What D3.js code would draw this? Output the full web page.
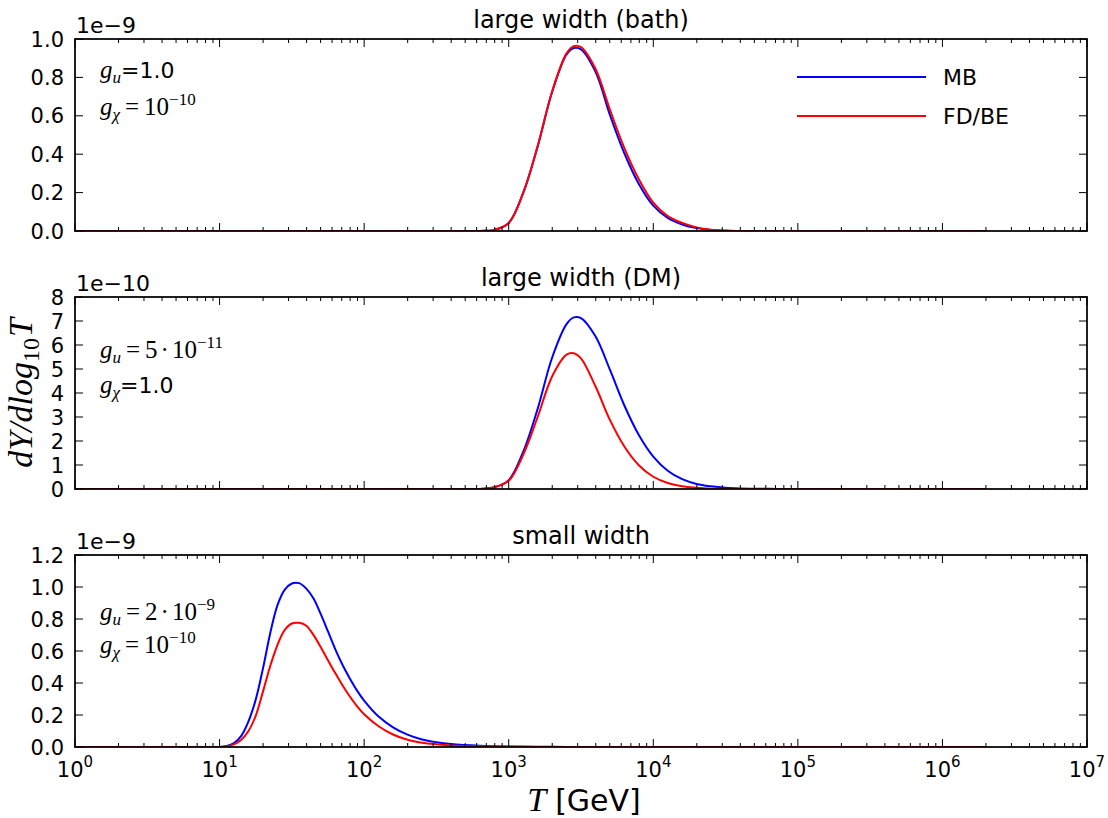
<!DOCTYPE html>
<html><head><meta charset="utf-8">
<script src="https://cdn.jsdelivr.net/npm/d3@7"></script>
<style>body{margin:0;background:#fff}svg{display:block}</style>
</head><body>
<svg id="c" width="1108" height="818"></svg>
<script>
// ---------------- data ----------------
const panelTitles = ["large width (bath)", "large width (DM)", "small width"];
const offsetLabels = ["1e\u22129", "1e\u221210", "1e\u22129"];
const seriesNames = ["MB", "FD/BE"];
const seriesColors = ["#0000ff", "#ff0000"];
const xTickExponents = [0, 1, 2, 3, 4, 5, 6, 7];
const yTicksBath = [0, 0.2, 0.4, 0.6, 0.8, 1.0];
const yTicksDM = [0, 1, 2, 3, 4, 5, 6, 7, 8];
const yTicksSmall = [0, 0.2, 0.4, 0.6, 0.8, 1.0, 1.2];
const yTickLabelsBath = ["0.0", "0.2", "0.4", "0.6", "0.8", "1.0"];
const yTickLabelsDM = ["0", "1", "2", "3", "4", "5", "6", "7", "8"];
const yTickLabelsSmall = ["0.0", "0.2", "0.4", "0.6", "0.8", "1.0", "1.2"];

// log10(T / GeV) sample points, values in units of the panel offset (1e-9, 1e-10, 1e-9)
const logT_large = [0, 1, 2, 2.5, 2.8, 2.9, 3.0, 3.1, 3.2, 3.3, 3.4, 3.45, 3.5, 3.6, 3.7, 3.8, 3.9, 4.0, 4.1, 4.2, 4.3, 4.4, 4.5, 4.6, 4.8, 5.0, 5.5, 6.0, 6.3];
const mb_bath = [0, 0, 0, 0, 0.0005, 0.006, 0.042, 0.198, 0.44, 0.724, 0.92, 0.953, 0.946, 0.83, 0.605, 0.405, 0.245, 0.132, 0.068, 0.034, 0.015, 0.005, 0.0015, 0.0003, 0, 0, 0, 0, 0];
const fd_bath = [0, 0, 0, 0, 0.0005, 0.006, 0.042, 0.198, 0.441, 0.725, 0.925, 0.963, 0.958, 0.845, 0.632, 0.432, 0.27, 0.148, 0.078, 0.042, 0.019, 0.007, 0.002, 0.0005, 0, 0, 0, 0, 0];
const mb_dm = [0, 0, 0, 0, 0.005, 0.07, 0.37, 1.55, 3.34, 5.47, 6.87, 7.15, 7.12, 6.36, 4.97, 3.48, 2.25, 1.35, 0.76, 0.41, 0.21, 0.11, 0.05, 0.025, 0.008, 0.002, 0, 0, 0];
const fd_dm = [0, 0, 0, 0, 0.005, 0.07, 0.34, 1.42, 3.0, 4.69, 5.6, 5.66, 5.44, 4.28, 2.88, 1.77, 0.99, 0.51, 0.25, 0.11, 0.05, 0.015, 0.005, 0.001, 0, 0, 0, 0, 0];

const logT_small = [0, 0.5, 1.0, 1.05, 1.1, 1.15, 1.2, 1.25, 1.3, 1.35, 1.4, 1.45, 1.5, 1.55, 1.6, 1.65, 1.7, 1.75, 1.8, 1.85, 1.9, 1.95, 2.0, 2.1, 2.2, 2.3, 2.4, 2.5, 2.6, 2.8, 3.0, 3.3, 3.6, 4.0, 5.0, 6.0, 6.3];
const mb_small = [0, 0, 0, 0.006, 0.025, 0.07, 0.16, 0.296, 0.49, 0.71, 0.885, 0.982, 1.022, 1.024, 0.99, 0.928, 0.83, 0.722, 0.612, 0.514, 0.43, 0.354, 0.29, 0.19, 0.123, 0.077, 0.047, 0.03, 0.019, 0.008, 0.003, 0.001, 0, 0, 0, 0, 0];
const fd_small = [0, 0, 0, 0.004, 0.016, 0.045, 0.1, 0.195, 0.346, 0.505, 0.637, 0.73, 0.772, 0.776, 0.758, 0.699, 0.624, 0.542, 0.462, 0.386, 0.317, 0.256, 0.205, 0.13, 0.078, 0.045, 0.027, 0.017, 0.01, 0.004, 0.0015, 0.0005, 0, 0, 0, 0, 0];

// ---------------- layout ----------------
const SANS = "'DejaVu Sans', sans-serif";
const SERIF = "'Liberation Serif', 'DejaVu Serif', serif";
const L = 75, R = 1087, PH = 192;
const panelTops = [39, 297, 555];
const svg = d3.select("#c");

const x = d3.scaleLog().domain([1, 1e7]).range([L, R]);

const panels = [
  {title: panelTitles[0], offset: offsetLabels[0], ticks: yTicksBath, labels: yTickLabelsBath, logT: logT_large, series: [mb_bath, fd_bath]},
  {title: panelTitles[1], offset: offsetLabels[1], ticks: yTicksDM, labels: yTickLabelsDM, logT: logT_large, series: [mb_dm, fd_dm]},
  {title: panelTitles[2], offset: offsetLabels[2], ticks: yTicksSmall, labels: yTickLabelsSmall, logT: logT_small, series: [mb_small, fd_small]}
];

function mathText(sel, px, py, parts, anchor) {
  const t = sel.append("text").attr("x", px).attr("y", py).attr("fill", "#000");
  if (anchor) t.attr("text-anchor", anchor);
  let cur = 0;
  parts.forEach(p => {
    const s = t.append("tspan").text(p.t)
      .attr("font-family", p.sans ? SANS : SERIF)
      .attr("font-style", p.it ? "italic" : "normal")
      .attr("font-size", p.size);
    const target = p.shift || 0;
    if (target - cur !== 0) s.attr("dy", target - cur);
    cur = target;
    if (p.dx) s.attr("dx", p.dx);
  });
  return t;
}

const majorX = xTickExponents.map(e => Math.pow(10, e));
const minorX = [];
xTickExponents.slice(0, -1).forEach(e => { for (let m = 2; m <= 9; m++) minorX.push(m * Math.pow(10, e)); });

panels.forEach((p, i) => {
  const top = panelTops[i], bot = top + PH;
  const yMax = p.ticks[p.ticks.length - 1];
  const y = d3.scaleLinear().domain([0, yMax]).range([bot, top]);
  const g = svg.append("g");

  const clipId = "clip" + i;
  svg.append("clipPath").attr("id", clipId).append("rect")
    .attr("x", L).attr("y", top).attr("width", R - L).attr("height", PH);

  const line = d3.line()
    .x(d => x(Math.pow(10, d[0])))
    .y(d => y(Math.max(0, d[1])))
    .curve(d3.curveCatmullRom.alpha(0.5));

  p.series.forEach((vals, k) => {
    const pts = p.logT.map((lt, j) => [lt, vals[j]]);
    g.append("path").attr("d", line(pts)).attr("fill", "none")
      .attr("stroke", seriesColors[k]).attr("stroke-width", 2)
      .attr("stroke-linejoin", "round")
      .attr("clip-path", `url(#${clipId})`);
  });

  // ticks
  const tk = g.append("g").attr("stroke", "#000").attr("stroke-width", 1);
  majorX.forEach(v => {
    tk.append("line").attr("x1", x(v)).attr("x2", x(v)).attr("y1", bot).attr("y2", bot - 8);
    tk.append("line").attr("x1", x(v)).attr("x2", x(v)).attr("y1", top).attr("y2", top + 8);
  });
  minorX.forEach(v => {
    tk.append("line").attr("x1", x(v)).attr("x2", x(v)).attr("y1", bot).attr("y2", bot - 4);
    tk.append("line").attr("x1", x(v)).attr("x2", x(v)).attr("y1", top).attr("y2", top + 4);
  });
  p.ticks.forEach(v => {
    tk.append("line").attr("x1", L).attr("x2", L + 8).attr("y1", y(v)).attr("y2", y(v));
    tk.append("line").attr("x1", R).attr("x2", R - 8).attr("y1", y(v)).attr("y2", y(v));
  });

  // frame
  g.append("rect").attr("x", L).attr("y", top).attr("width", R - L).attr("height", PH)
    .attr("fill", "none").attr("stroke", "#000").attr("stroke-width", 1.75);

  // y tick labels
  p.ticks.forEach((v, j) => {
    g.append("text").attr("x", 64).attr("y", y(v)).attr("dy", "0.36em")
      .attr("text-anchor", "end").attr("font-family", SANS).attr("font-size", 21)
      .text(p.labels[j]);
  });

  // offset text
  g.append("text").attr("x", 76).attr("y", top - 6).attr("font-family", SANS)
    .attr("font-size", 22).text(p.offset);

  // title
  g.append("text").attr("x", (L + R) / 2).attr("y", top - 11).attr("text-anchor", "middle")
    .attr("font-family", SANS).attr("font-size", 24).text(p.title);

  // x tick labels on bottom panel
  if (i === panels.length - 1) {
    xTickExponents.forEach(e => {
      mathText(g, x(Math.pow(10, e)), bot + 30, [
        {t: "10", sans: true, size: 21},
        {t: String(e), sans: true, size: 15, shift: -10}
      ], "middle");
    });
  }
});

// annotations
const an = svg.append("g");
mathText(an, 100, 78, [
  {t: "g", it: true, size: 25}, {t: "u", it: true, size: 17, shift: 5},
  {t: "=1.0", sans: true, size: 22, shift: 0}
]);
mathText(an, 100, 115, [
  {t: "g", it: true, size: 25}, {t: "\u03c7", it: true, size: 17, shift: 5},
  {t: "=", size: 25, shift: 0, dx: 5}, {t: "10", size: 25, dx: 5},
  {t: "\u221210", size: 17, shift: -10}
]);
mathText(an, 100, 358, [
  {t: "g", it: true, size: 25}, {t: "u", it: true, size: 17, shift: 5},
  {t: "=", size: 25, shift: 0, dx: 5}, {t: "5", size: 25, dx: 5},
  {t: "\u00b7", size: 25, dx: 3}, {t: "10", size: 25, dx: 3},
  {t: "\u221211", size: 17, shift: -10}
]);
mathText(an, 100, 393, [
  {t: "g", it: true, size: 25}, {t: "\u03c7", it: true, size: 17, shift: 5},
  {t: "=1.0", sans: true, size: 22, shift: 0}
]);
mathText(an, 100, 620, [
  {t: "g", it: true, size: 25}, {t: "u", it: true, size: 17, shift: 5},
  {t: "=", size: 25, shift: 0, dx: 5}, {t: "2", size: 25, dx: 5},
  {t: "\u00b7", size: 25, dx: 3}, {t: "10", size: 25, dx: 3},
  {t: "\u22129", size: 17, shift: -10}
]);
mathText(an, 100, 653, [
  {t: "g", it: true, size: 25}, {t: "\u03c7", it: true, size: 17, shift: 5},
  {t: "=", size: 25, shift: 0, dx: 5}, {t: "10", size: 25, dx: 5},
  {t: "\u221210", size: 17, shift: -10}
]);

// legend
const lg = svg.append("g");
seriesNames.forEach((n, k) => {
  const ly = 77 + k * 39;
  lg.append("line").attr("x1", 797).attr("x2", 926).attr("y1", ly).attr("y2", ly)
    .attr("stroke", seriesColors[k]).attr("stroke-width", 2);
  lg.append("text").attr("x", 943).attr("y", ly).attr("dy", "0.36em")
    .attr("font-family", SANS).attr("font-size", 22).text(n);
});

// axis labels
const yl = svg.append("g").attr("transform", "translate(32,393) rotate(-90)");
mathText(yl, 0, 0, [
  {t: "dY/dlog", it: true, size: 34},
  {t: "10", size: 24, shift: 7},
  {t: "T", it: true, size: 34, shift: 0, dx: 1}
], "middle");
mathText(svg, 584, 811, [
  {t: "T", it: true, size: 34},
  {t: "[GeV]", sans: true, size: 30, dx: 9}
], "middle");
</script>
</body></html>
